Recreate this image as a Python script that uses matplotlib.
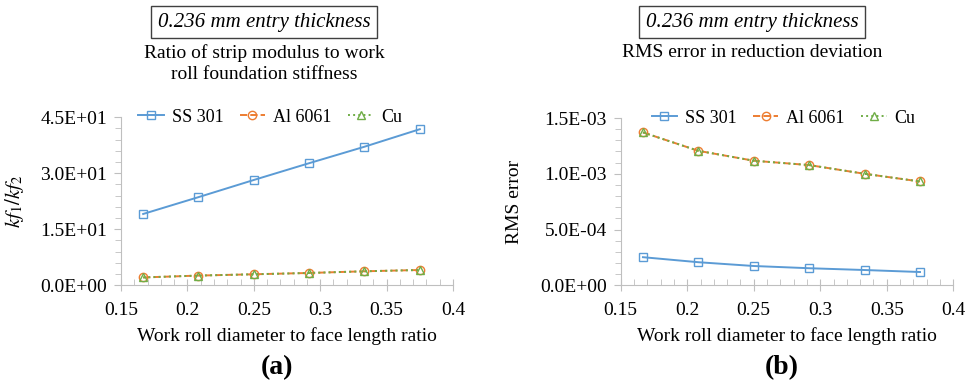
import matplotlib.pyplot as plt
from matplotlib.ticker import MultipleLocator, FuncFormatter

plt.rcParams['font.family'] = ['Liberation Serif', 'DejaVu Serif']
plt.rcParams['mathtext.fontset'] = 'stix'

# work roll diameter / face length
ratio = [0.1667, 0.2083, 0.25, 0.2917, 0.3333, 0.375]

# (a) kf1/kf2
kf_ss301 = [19.1, 23.6, 28.2, 32.7, 37.1, 41.8]
kf_al6061 = [2.1, 2.6, 2.95, 3.3, 3.75, 4.1]
kf_cu = [2.1, 2.6, 2.95, 3.3, 3.75, 4.1]

# (b) RMS error in reduction deviation
rms_ss301 = [2.52e-4, 2.07e-4, 1.73e-4, 1.53e-4, 1.37e-4, 1.19e-4]
rms_al6061 = [1.371e-3, 1.206e-3, 1.117e-3, 1.078e-3, 1.0e-3, 0.931e-3]
rms_cu = [1.371e-3, 1.206e-3, 1.117e-3, 1.078e-3, 1.0e-3, 0.931e-3]

series_names = ['SS 301', 'Al 6061', 'Cu']
colors = ['#5B9BD5', '#ED7D31', '#70AD47']
styles = ['-', '--', ':']
markers = ['s', 'o', '^']

fig = plt.figure(figsize=(9.78, 3.89), dpi=100)
ax1 = fig.add_axes([0.1237, 0.2666, 0.3395, 0.432])
ax2 = fig.add_axes([0.6347, 0.2666, 0.340, 0.430])

grey = '#BFBFBF'


def style_axes(ax, ymax, ymaj, ymin):
    ax.set_xlim(0.15, 0.4)
    ax.set_ylim(0, ymax)
    ax.xaxis.set_major_locator(MultipleLocator(0.05))
    ax.xaxis.set_minor_locator(MultipleLocator(0.01))
    ax.yaxis.set_major_locator(MultipleLocator(ymaj))
    ax.yaxis.set_minor_locator(MultipleLocator(ymin))
    ax.xaxis.set_major_formatter(FuncFormatter(lambda v, p: '%g' % round(v, 3)))
    ax.yaxis.set_major_formatter(FuncFormatter(lambda v, p: '%.1E' % v))
    for s in ['top', 'right']:
        ax.spines[s].set_visible(False)
    for s in ['left', 'bottom']:
        ax.spines[s].set_color(grey)
    ax.tick_params(axis='x', which='major', direction='inout', length=8,
                   color=grey, labelsize=14, pad=8)
    ax.tick_params(axis='x', which='minor', direction='in', length=4, color=grey)
    ax.tick_params(axis='y', which='major', direction='out', length=5,
                   color=grey, labelsize=14, pad=5)
    ax.tick_params(axis='y', which='minor', direction='out', length=4, color=grey)
    ax.set_xlabel('Work roll diameter to face length ratio', fontsize=14, labelpad=6)


def plot_series(ax, data):
    for vals, name, c, ls, m in zip(data, series_names, colors, styles, markers):
        ax.plot(ratio, vals, linestyle=ls, color=c, lw=1.4, marker=m, ms=6,
                mfc='none', mec=c, mew=1.0, label=name)
    ax.legend(loc='center', bbox_to_anchor=(0.45, 1.0), ncol=3, frameon=False,
              fontsize=13, handlelength=1.4, columnspacing=0.9, handletextpad=0.45)


plot_series(ax1, [kf_ss301, kf_al6061, kf_cu])
style_axes(ax1, 45, 15, 3)
ax1.set_ylabel('$kf_1/kf_2$', fontsize=15)
ax1.yaxis.set_label_coords(-0.285, 0.5)

plot_series(ax2, [rms_ss301, rms_al6061, rms_cu])
ax2.get_legend().set_bbox_to_anchor((0.49, 1.0))
style_axes(ax2, 1.5e-3, 5e-4, 1e-4)
ax2.set_ylabel('RMS error', fontsize=14)
ax2.yaxis.set_label_coords(-0.295, 0.5)

# headings above each panel
for cx, sub in [(264, 'Ratio of strip modulus to work\nroll foundation stiffness'),
                (752, 'RMS error in reduction deviation')]:
    fig.text(cx / 978, 1 - 22 / 389, '0.236 mm entry thickness', ha='center',
             va='center', fontsize=15, style='italic',
             bbox=dict(boxstyle='square,pad=0.3', fc='white', ec='#404040', lw=1.0))
    fig.text(cx / 978, 1 - 44 / 389, sub, ha='center', va='top', fontsize=14,
             linespacing=1.3)

fig.text(277 / 978, 1 - 368 / 389, '(a)', ha='center', va='center',
         fontsize=20, weight='bold')
fig.text(782 / 978, 1 - 368 / 389, '(b)', ha='center', va='center',
         fontsize=20, weight='bold')

fig.savefig('out.png', dpi=100)
